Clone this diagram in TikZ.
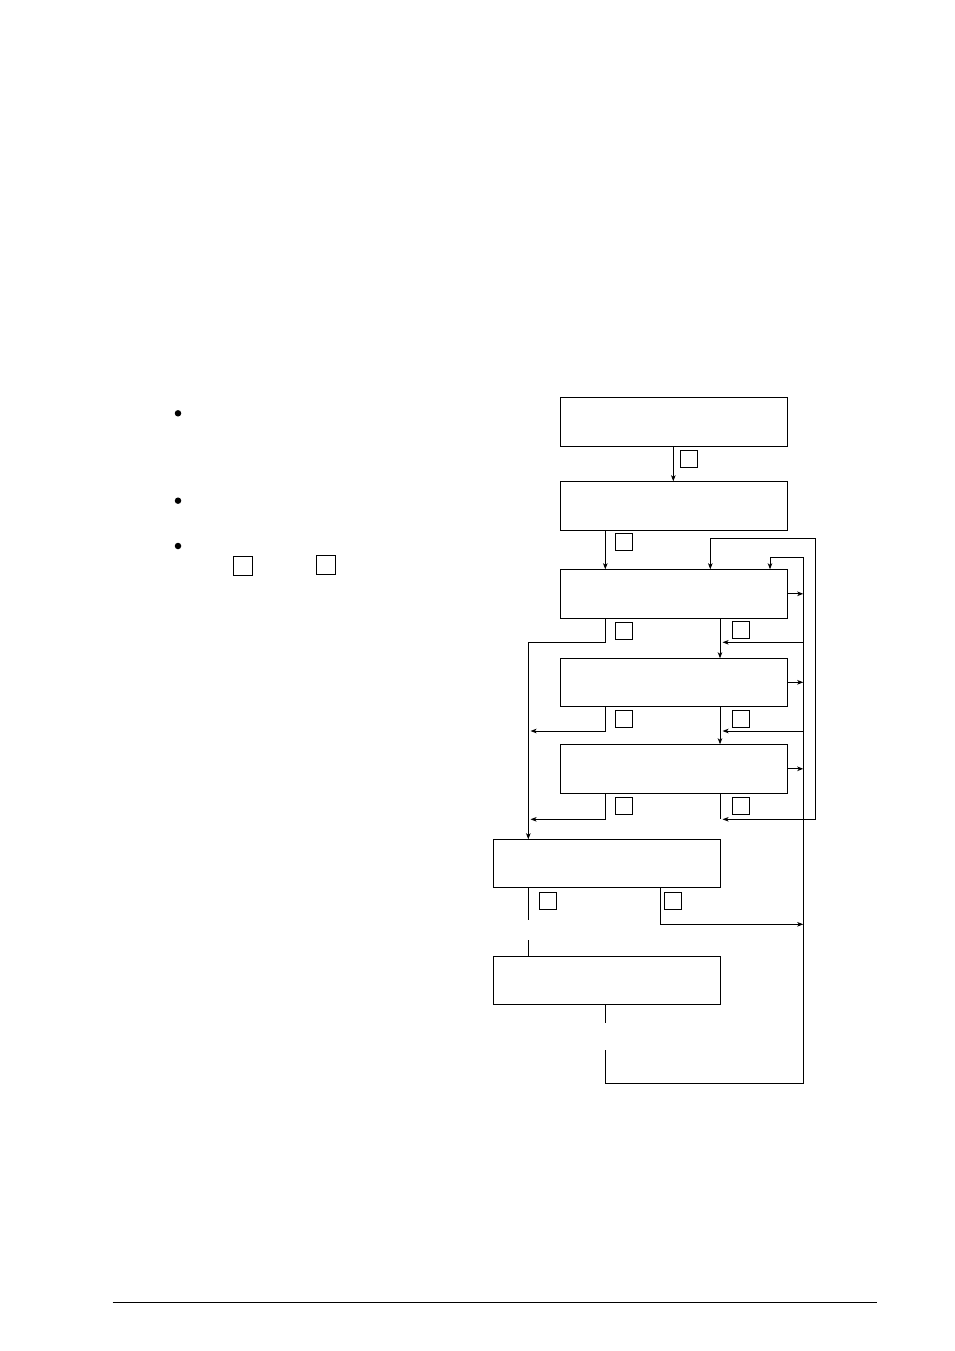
\documentclass[tikz,border=0pt]{standalone}
\usetikzlibrary{arrows.meta}
\begin{document}
\begin{tikzpicture}[x=1pt,y=-1pt,
  every path/.style={line width=1pt},
  box/.style={draw, line width=1pt, minimum width=227.4pt, minimum height=49pt, inner sep=0pt, outer sep=0pt, anchor=north west},
  boxb/.style={box, minimum height=48pt},
  sq/.style={draw, line width=1pt, minimum size=17pt, inner sep=0pt, outer sep=0pt, anchor=north west},
  sqb/.style={sq, minimum size=19pt},
  dot/.style={circle, fill=black, inner sep=0pt, minimum size=6.5pt},
  arr/.style={-{Stealth[length=6pt,width=4.5pt,inset=1.5pt]}},
  arrb/.style={{Stealth[length=6pt,width=4.5pt,inset=1.5pt]}-{Stealth[length=6pt,width=4.5pt,inset=1.5pt]}}
]
\useasboundingbox (0,0) rectangle (954,1351);

% boxes
\node[box] (A) at (560.3,397.3) {};
\node[box] (B) at (560.3,481.3) {};
\node[box] (C) at (560.3,569.3) {};
\node[box, minimum height=48pt] (D) at (560.3,658.3) {};
\node[box] (E) at (560.3,744.3) {};
\node[boxb] (F) at (493.3,839.3) {};
\node[boxb] (G) at (493.3,956.3) {};

% small squares
\node[sq] (s1) at (680.3,450.3) {};
\node[sq] (s2) at (615.3,533.3) {};
\node[sq] (s3) at (615.3,622.7) {};
\node[sq] (s4) at (732.3,621.3) {};
\node[sq] (s5) at (615.3,710.3) {};
\node[sq] (s6) at (732.3,710.3) {};
\node[sq] (s7) at (615.3,797.3) {};
\node[sq] (s8) at (732.3,797.3) {};
\node[sq] (s9) at (539.3,892.3) {};
\node[sq] (s10) at (664.3,892.3) {};
\node[sqb] (s11) at (233.3,556) {};
\node[sqb] (s12) at (316.3,555) {};

% bullets
\node[dot] (d1) at (178,413.3) {};
\node[dot] (d2) at (178,500.7) {};
\node[dot] (d3) at (178,546) {};

% column coordinates
\coordinate (cA) at (673.3,0);
\coordinate (cL) at (605.3,0);
\coordinate (cR) at (720,0);
\coordinate (cT) at (710.3,0);
\coordinate (cT2) at (770,0);
\coordinate (cLL) at (528.3,0);
\coordinate (cFR) at (660.3,0);
\coordinate (b1) at (803.3,557.3);
\coordinate (b2) at (803.3,1083.3);
\coordinate (o1) at (815.3,538.3);
\coordinate (o2) at (815.3,819.3);
\coordinate (y1) at (0,642.3);
\coordinate (y2) at (0,731);
\coordinate (y3) at (0,819.3);
\coordinate (yF) at (0,924.3);
\coordinate (gF1) at (528.3,920.3);
\coordinate (gF2) at (528.3,940);
\coordinate (gG1) at (605.3,1023.3);
\coordinate (gG2) at (605.3,1050);
\coordinate (bL) at (722.5,0);
\coordinate (aL) at (530.5,0);

% main flow
\draw[arr] (A.south -| cA) -- (B.north -| cA);
\draw[arr] (B.south -| cL) -- (C.north -| cL);
\draw[arr] (C.south -| cR) -- (D.north -| cR);
\draw[arr] (D.south -| cR) -- (E.north -| cR);
\draw (E.south -| cR) -- (cR |- y3);

% outer loop
\draw[arrb] (o2 -| bL) -- (o2) -- (o1) -- (o1 -| cT) -- (cT |- C.north);

% bus
\draw (G.south -| cL) -- (gG1);
\draw[arr] (gG2) -- (cL |- b2) -- (b2) -- (b1) -- (b1 -| cT2) -- (cT2 |- C.north);

% right exits into bus
\draw[arr] (C.east) -- (C.east -| b1);
\draw[arr] (D.east) -- (D.east -| b1);
\draw[arr] (E.east) -- (E.east -| b1);

% bus back arrows
\draw[arr] (b1 |- y1) -- (bL |- y1);
\draw[arr] (b1 |- y2) -- (bL |- y2);

% left branch
\draw[arr] (C.south -| cL) -- (cL |- y1) -- (cLL |- y1) -- (cLL |- F.north);
\draw[arr] (D.south -| cL) -- (cL |- y2) -- (aL |- y2);
\draw[arr] (E.south -| cL) -- (cL |- y3) -- (aL |- y3);

% F exits
\draw (F.south -| cLL) -- (gF1);
\draw (gF2) -- (G.north -| cLL);
\draw[arr] (F.south -| cFR) -- (cFR |- yF) -- (b1 |- yF);

% footer rule
\coordinate (f1) at (112.7,1302.3);
\coordinate (f2) at (876.7,1302.3);
\draw (f1) -- (f2);
\end{tikzpicture}
\end{document}
